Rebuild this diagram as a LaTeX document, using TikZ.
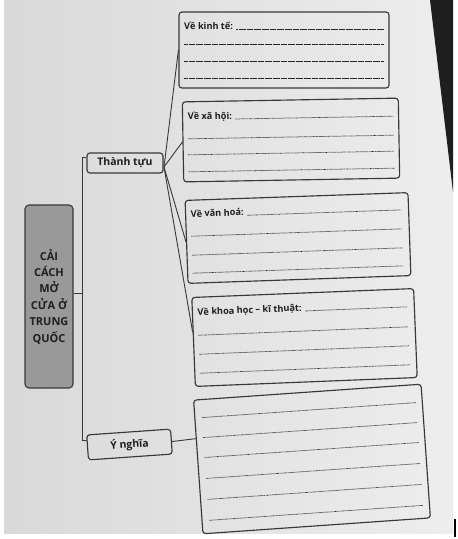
\documentclass[tikz,border=0pt]{standalone}
\usepackage{fontspec}
\setmainfont{Open Sans}
\usetikzlibrary{calc}
\tikzset{
  rbox/.style={draw=black!78, line width=1.15pt, rounded corners=3pt, inner sep=0pt},
  lab/.style={anchor=base west, inner sep=0pt, font=\bfseries\fontsize{9.2}{11}\selectfont, text=black!88},
  dots/.style={draw=black!85, line width=0.75pt, dash pattern=on 0.55pt off 0.6pt},
  conn/.style={draw=black!78, line width=0.9pt},
  headbox/.style={rbox, font=\bfseries\fontsize{10.5}{12}\selectfont, text=black!88},
}
\begin{document}
\begin{tikzpicture}[x=1pt, y=-1pt]
\useasboundingbox (0,0) rectangle (458,539);
% page background
\fill[white] (0,0) rectangle (458,539);
\shade[left color=black!15, right color=black!7] (4,0) rectangle (453,533);
\fill[black!88] (430,0) -- (453,0) -- (453,192) -- cycle;
\draw[line width=1.5pt] (455,519) -- (455,537);

% main box
\node[headbox, fill=black!40, rounded corners=4pt, minimum width=48pt, minimum height=183pt,
      align=center, font=\bfseries\fontsize{11}{16.4}\selectfont] (main) at (49,296.5)
  {CẢI\\CÁCH\\MỞ\\CỬA Ở\\TRUNG\\QUỐC};

% left label boxes
\node[headbox, minimum width=76pt, minimum height=20pt] (tt) at (125,163) {Thành tựu};
\node[headbox, minimum width=84pt, minimum height=25pt, rotate=4] (yn) at (129.5,444.5) {Ý nghĩa};

% bracket
\coordinate (brTop) at (82,157);
\coordinate (brBot) at (82,440);
\coordinate (brMid) at (82,293);
\draw[conn] (brTop -| tt.west) -- (brTop) -- (brBot) -- (brBot -| yn.west);
\draw[conn] (main.east |- brMid) -- (brMid);

% box 1
\begin{scope}[shift={(284,50)}, transform shape]
  \node[rbox, minimum width=210pt, minimum height=76pt] (b1) at (0,0) {};
  \node[lab] (t1) at (-100,-21) {Về kinh tế:};
  \draw[dots] ($(t1.base east)+(3,0)$) -- (100,-21);
  \draw[dots] (-100,-6) -- (100,-6);
  \draw[dots] (-100,11) -- (100,11);
  \draw[dots] (-100,28) -- (100,28);
\end{scope}

% box 2
\begin{scope}[shift={(291,140)}, rotate=1, transform shape]
  \node[rbox, minimum width=216pt, minimum height=80pt] (b2) at (0,0) {};
  \node[lab] (t2) at (-103,-22) {Về xã hội:};
  \draw[dots] ($(t2.base east)+(3,0)$) -- (103,-22);
  \draw[dots] (-103,-3) -- (103,-3);
  \draw[dots] (-103,13) -- (103,13);
  \draw[dots] (-103,30) -- (103,30);
\end{scope}

% box 3
\begin{scope}[shift={(298,238)}, rotate=2, transform shape]
  \node[rbox, minimum width=223pt, minimum height=83pt] (b3) at (0,0) {};
  \node[lab] (t3) at (-106.5,-24.5) {Về văn hoá:};
  \draw[dots] ($(t3.base east)+(3,0)$) -- (104,-24.5);
  \draw[dots] (-106.5,-5.5) -- (104,-5.5);
  \draw[dots] (-106.5,13.5) -- (104,13.5);
  \draw[dots] (-106.5,31.5) -- (104,31.5);
\end{scope}

% box 4
\begin{scope}[shift={(304.5,337.5)}, rotate=2.3, transform shape]
  \node[rbox, minimum width=222pt, minimum height=89pt] (b4) at (0,0) {};
  \node[lab] (t4) at (-106,-26.5) {Về khoa học – kĩ thuật:};
  \draw[dots] ($(t4.base east)+(3,0)$) -- (104,-26.5);
  \draw[dots] (-106,-6.5) -- (104,-6.5);
  \draw[dots] (-106,12.5) -- (104,12.5);
  \draw[dots] (-106,31.5) -- (104,31.5);
\end{scope}

% box 5
\begin{scope}[shift={(312,459)}, rotate=4, transform shape]
  \node[rbox, minimum width=228pt, minimum height=134pt] (b5) at (0,0) {};
  \foreach \yy in {-49,-29,-9,12,33,54}
    \draw[dots] (-107,\yy) -- (108,\yy);
\end{scope}

% connectors
\coordinate (hub) at (164,167);
\draw[conn] (hub) -- (b1.west);
\draw[conn] (hub) -- (b2.west);
\draw[conn] (hub) -- (b3.west);
\draw[conn] (hub) -- ($(b4.north west)!0.39!(b4.south west)$);
\draw[conn] (yn.east) -- ($(b5.north west)!0.29!(b5.south west)$);
\end{tikzpicture}
\end{document}
